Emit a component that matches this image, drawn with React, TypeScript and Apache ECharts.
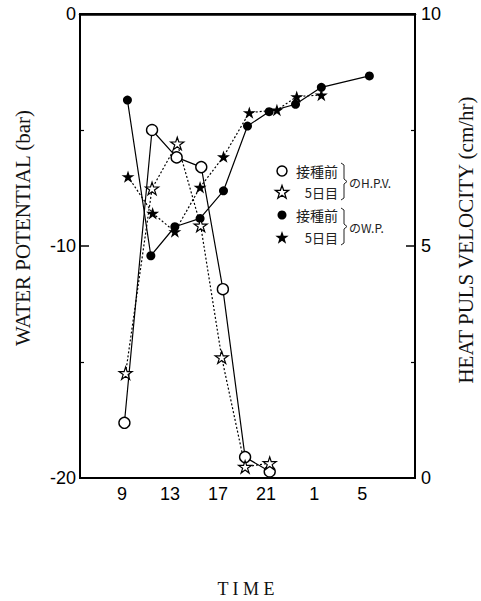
import React, { useEffect, useRef } from "react";
import * as echarts from "echarts";

// Time of day in hours (values past 24 are the next morning)
const xTickValues = [9, 13, 17, 21, 25, 29];
const xTickLabels = ["9", "13", "17", "21", "1", "5"];

// Heat puls velocity (cm/hr), before inoculation
const hpvBeforeTime = [9.2, 11.5, 13.55, 15.6, 17.4, 19.25, 21.3];
const hpvBefore = [1.19, 7.5, 6.91, 6.7, 4.07, 0.45, 0.14];
// Heat puls velocity (cm/hr), 5th day
const hpvDay5Time = [9.3, 11.5, 13.6, 15.55, 17.3, 19.25, 21.3];
const hpvDay5 = [2.26, 6.24, 7.21, 5.44, 2.6, 0.24, 0.32];
// Water potential (bar), before inoculation
const wpBeforeTime = [9.45, 11.4, 13.4, 15.5, 17.45, 19.45, 21.25, 23.45, 25.6, 29.6];
const wpBefore = [-3.71, -10.42, -9.17, -8.81, -7.62, -4.83, -4.21, -3.89, -3.16, -2.67];
// Water potential (bar), 5th day
const wpDay5Time = [9.5, 11.55, 13.4, 15.5, 17.45, 19.6, 21.9, 23.55, 25.6];
const wpDay5 = [-7.01, -8.59, -9.38, -7.47, -6.15, -4.25, -4.14, -3.56, -3.49];

const STAR =
  "path://M50 0 L61.17 34.63 L97.55 34.55 L68.07 55.87 L79.39 90.45 L50 69 L20.61 90.45 L31.93 55.87 L2.45 34.55 L38.83 34.63 Z";

function zip(xs: number[], ys: number[]) {
  return xs.map((x, i) => [x, ys[i]]);
}

function starPoints(cx: number, cy: number, R: number) {
  const r = R * 0.4;
  const pts: number[][] = [];
  for (let i = 0; i < 10; i++) {
    const a = -Math.PI / 2 + (i * Math.PI) / 5;
    const rad = i % 2 === 0 ? R : r;
    pts.push([cx + rad * Math.cos(a), cy + rad * Math.sin(a)]);
  }
  return pts;
}

export default function App() {
  const ref = useRef<HTMLDivElement>(null);
  useEffect(() => {
    const chart = echarts.init(ref.current!, null, { renderer: "svg" });
    const labelFont = {
      fontFamily: "Liberation Sans",
      fontSize: 18,
      color: "#000",
    };
    const titleStyle = { fontFamily: "Liberation Serif", fontSize: 21, fill: "#111", align: "center", verticalAlign: "middle" };
    const cjk = "Noto Sans CJK JP";
    chart.setOption({
      animation: false,
      backgroundColor: "#fff",
      grid: {
        left: 80,
        top: 14,
        right: 66,
        bottom: 123,
        show: true,
        borderColor: "#000",
        borderWidth: 2,
      },
      xAxis: {
        type: "value",
        min: 5.5,
        max: 33.4,
        axisLine: { show: true, lineStyle: { color: "#000", width: 2.5 } },
        axisTick: { show: false },
        splitLine: { show: false },
        axisLabel: {
          ...labelFont,
          margin: 7,
          customValues: xTickValues,
          formatter: (v: number) => {
            const i = xTickValues.indexOf(v);
            return i >= 0 ? xTickLabels[i] : "";
          },
        },
      },
      yAxis: [
        {
          type: "value",
          min: -20,
          max: 0,
          interval: 10,
          position: "left",
          axisLine: { show: true, lineStyle: { color: "#000", width: 2 } },
          axisTick: { show: true, inside: true, length: 9, lineStyle: { color: "#000", width: 1.5 } },
          minorTick: { show: true, splitNumber: 2, length: 4, lineStyle: { color: "#000", width: 1.2 } },
          splitLine: { show: false },
          axisLabel: { ...labelFont, margin: 4 },
        },
        {
          type: "value",
          min: 0,
          max: 10,
          interval: 5,
          position: "right",
          axisLine: { show: true, lineStyle: { color: "#000", width: 2 } },
          axisTick: { show: true, inside: true, length: 9, lineStyle: { color: "#000", width: 1.5 } },
          minorTick: { show: true, splitNumber: 2, length: 4, lineStyle: { color: "#000", width: 1.2 } },
          splitLine: { show: false },
          axisLabel: { ...labelFont, margin: 6 },
        },
      ],
      series: [
        {
          name: "接種前 H.P.V.",
          type: "line",
          yAxisIndex: 1,
          data: zip(hpvBeforeTime, hpvBefore),
          symbol: "circle",
          symbolSize: 11,
          itemStyle: { color: "#fff", borderColor: "#000", borderWidth: 1.4 },
          lineStyle: { color: "#000", width: 1.2, type: "solid" },
          z: 3,
        },
        {
          name: "5日目 H.P.V.",
          type: "line",
          yAxisIndex: 1,
          data: zip(hpvDay5Time, hpvDay5),
          symbol: STAR,
          symbolKeepAspect: true,
          symbolSize: 13,
          itemStyle: { color: "#fff", borderColor: "#000", borderWidth: 1.2 },
          lineStyle: { color: "#000", width: 1.2, type: [2, 2] },
          z: 3,
        },
        {
          name: "接種前 W.P.",
          type: "line",
          yAxisIndex: 0,
          data: zip(wpBeforeTime, wpBefore),
          symbol: "circle",
          symbolSize: 9,
          itemStyle: { color: "#000", borderColor: "#000", borderWidth: 0 },
          lineStyle: { color: "#000", width: 1.2, type: "solid" },
          z: 2,
        },
        {
          name: "5日目 W.P.",
          type: "line",
          yAxisIndex: 0,
          data: zip(wpDay5Time, wpDay5),
          symbol: STAR,
          symbolKeepAspect: true,
          symbolSize: 13,
          itemStyle: { color: "#000", borderColor: "#000", borderWidth: 0 },
          lineStyle: { color: "#000", width: 1.2, type: [2, 2] },
          z: 2,
        },
      ],
      graphic: [
        {
          type: "text",
          x: 23,
          y: 228,
          rotation: Math.PI / 2,
          style: { ...titleStyle, text: "WATER POTENTIAL (bar)" },
        },
        {
          type: "text",
          x: 466,
          y: 240,
          rotation: Math.PI / 2,
          style: { ...titleStyle, text: "HEAT PULS VELOCITY (cm/hr)" },
        },
        {
          type: "text",
          x: 246,
          y: 589,
          style: { text: "T I M E", fontFamily: "Liberation Serif", fontSize: 18, fill: "#111", align: "center", verticalAlign: "middle" },
        },
        // legend
        { type: "circle", shape: { cx: 282, cy: 171, r: 5 }, style: { fill: "#fff", stroke: "#000", lineWidth: 1.5 } },
        { type: "polygon", shape: { points: starPoints(282, 192.5, 7) }, style: { fill: "#fff", stroke: "#000", lineWidth: 1.3 } },
        { type: "circle", shape: { cx: 282, cy: 215, r: 4.5 }, style: { fill: "#000" } },
        { type: "polygon", shape: { points: starPoints(282, 238, 7) }, style: { fill: "#000" } },
        { type: "text", x: 338, y: 171, style: { text: "接種前", fontFamily: cjk, fontSize: 14, fill: "#222", align: "right", verticalAlign: "middle" } },
        { type: "text", x: 338, y: 192, style: { text: "5日目", fontFamily: cjk, fontSize: 13, fill: "#222", align: "right", verticalAlign: "middle" } },
        { type: "text", x: 338, y: 215, style: { text: "接種前", fontFamily: cjk, fontSize: 14, fill: "#222", align: "right", verticalAlign: "middle" } },
        { type: "text", x: 338, y: 237, style: { text: "5日目", fontFamily: cjk, fontSize: 13, fill: "#222", align: "right", verticalAlign: "middle" } },
        {
          type: "polyline",
          shape: { points: [[341, 163], [344, 165], [344, 179], [347, 181.5], [344, 184], [344, 198], [341, 200]] },
          style: { stroke: "#222", lineWidth: 1, fill: "none" },
        },
        {
          type: "polyline",
          shape: { points: [[341, 208], [344, 210], [344, 224], [347, 226.5], [344, 229], [344, 243], [341, 245]] },
          style: { stroke: "#222", lineWidth: 1, fill: "none" },
        },
        { type: "text", x: 349, y: 182, style: { text: "のH.P.V.", fontFamily: cjk, fontSize: 12, fill: "#222", align: "left", verticalAlign: "middle" } },
        { type: "text", x: 349, y: 227, style: { text: "のW.P.", fontFamily: cjk, fontSize: 12, fill: "#222", align: "left", verticalAlign: "middle" } },
      ],
    });
    return () => chart.dispose();
  }, []);
  return (
    <div
      ref={ref}
      style={{ position: "absolute", left: 0, top: 0, width: 481, height: 601, background: "#fff" }}
    />
  );
}
